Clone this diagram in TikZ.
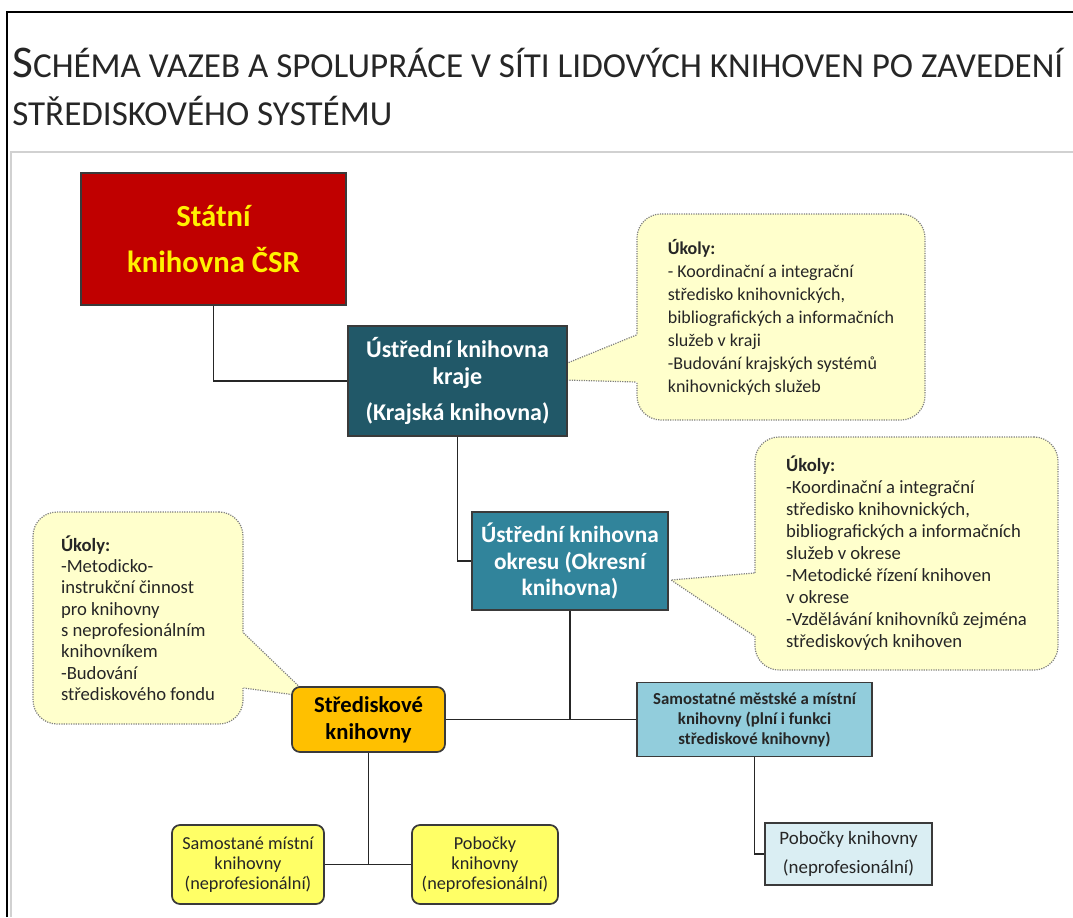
\documentclass[tikz,border=0pt]{standalone}
\usepackage{fontspec}
\setmainfont{Carlito}
\usetikzlibrary{positioning}
\definecolor{statred}{HTML}{C00000}
\definecolor{krajteal}{HTML}{215868}
\definecolor{okresteal}{HTML}{31849B}
\definecolor{stredgold}{HTML}{FFC000}
\definecolor{mistniyel}{HTML}{FFFF66}
\definecolor{samostblue}{HTML}{92CDDC}
\definecolor{pobblue}{HTML}{DAEEF3}
\definecolor{bubble}{HTML}{FFFFCC}
\definecolor{dotgray}{HTML}{7F7F7F}
\definecolor{boxline}{HTML}{3A3A3A}
\definecolor{ink}{HTML}{262626}
\tikzset{
  box/.style={draw=boxline, line width=1.3pt, align=center, inner sep=0pt},
  roundbox/.style={box, rounded corners=6pt},
  ukoly/.style={draw=dotgray, dash pattern=on 0.9pt off 0.9pt, line width=0.9pt,
    fill=bubble, rounded corners=18pt, align=left, inner sep=0pt, text=ink},
  tipfill/.style={fill=bubble},
  tipline/.style={draw=dotgray, dash pattern=on 0.9pt off 0.9pt, line width=0.9pt},
  link/.style={draw=black!85, line width=1pt}
}
\begin{document}
\begin{tikzpicture}[x=0.75pt,y=-0.75pt]
  \useasboundingbox (0,0) rectangle (1073,917);
  %% page frame
  \draw[black, line width=1pt] (7,917) -- (7,12) -- (1073,12);
  \draw[black!18, line width=1.6pt] (11,917) -- (11,152) -- (1073,152);
  %% title
  \node[anchor=base west, inner sep=0pt, text=ink] (title1) at (12,77)
    {\fontsize{34}{34}\selectfont S\fontsize{26.3}{26.3}\selectfont CHÉMA VAZEB A SPOLUPRÁCE V SÍTI LIDOVÝCH KNIHOVEN PO ZAVEDENÍ};
  \node[anchor=base west, inner sep=0pt, text=ink] (title2) at (12,125)
    {\fontsize{26.3}{26.3}\selectfont STŘEDISKOVÉHO SYSTÉMU};

  %% callouts (drawn first, under the boxes)
  \node[ukoly, font=\fontsize{13.5}{17.25}\selectfont, minimum width=216pt, minimum height=154.5pt] (ukolyKraj) at (781,317)
    {\textbf{Úkoly:}\\
     - Koordinační a integrační\\
     středisko knihovnických,\\
     bibliografických a informačních\\
     služeb v kraji\\
     -Budování krajských systémů\\
     knihovnických služeb};
  \node[ukoly, font=\fontsize{14}{16.5}\selectfont, minimum width=227.25pt, minimum height=174.75pt] (ukolyOkres) at (906.5,553.5)
    {\textbf{Úkoly:}\\
     -Koordinační a integrační\\
     středisko knihovnických,\\
     bibliografických a informačních\\
     služeb v okrese\\
     -Metodické řízení knihoven\\
     v okrese\\
     -Vzdělávání knihovníků zejména\\
     střediskových knihoven};
  \node[ukoly, font=\fontsize{14}{16}\selectfont, minimum width=157.5pt, minimum height=159pt] (ukolyStred) at (138,618)
    {\textbf{Úkoly:}\\
     -Metodicko-\\
     instrukční činnost\\
     pro knihovny\\
     s neprofesionálním\\
     knihovníkem\\
     -Budování\\
     střediskového fondu};

  %% callout pointers
  \coordinate (tipKraj) at (528,379);
  \coordinate (tipOkres) at (671,580);
  \coordinate (tipStred) at (310,697);
  \fill[tipfill] (tipKraj) -- (ukolyKraj.west |- 0,335) -- ([xshift=3pt]ukolyKraj.west |- 0,335)
    -- ([xshift=3pt]ukolyKraj.west |- 0,382) -- (ukolyKraj.west |- 0,382) -- cycle;
  \draw[tipline] (ukolyKraj.west |- 0,335) -- (tipKraj) -- (ukolyKraj.west |- 0,382);
  \fill[tipfill] (tipOkres) -- (ukolyOkres.west |- 0,573) -- ([xshift=3pt]ukolyOkres.west |- 0,573)
    -- ([xshift=3pt]ukolyOkres.west |- 0,636) -- (ukolyOkres.west |- 0,636) -- cycle;
  \draw[tipline] (ukolyOkres.west |- 0,573) -- (tipOkres) -- (ukolyOkres.west |- 0,636);
  \fill[tipfill] (tipStred) -- (ukolyStred.east |- 0,633) -- ([xshift=-3pt]ukolyStred.east |- 0,633)
    -- ([xshift=-3pt]ukolyStred.east |- 0,688) -- (ukolyStred.east |- 0,688) -- cycle;
  \draw[tipline] (ukolyStred.east |- 0,633) -- (tipStred) -- (ukolyStred.east |- 0,688);

  %% library boxes
  \node[box, fill=statred, text=yellow, font=\fontsize{23}{35}\selectfont\bfseries,
    minimum width=198.75pt, minimum height=99pt] (statni) at (213.5,239)
    {Státní\\ knihovna ČSR};
  \node[box, fill=krajteal, text=white, font=\fontsize{18}{20}\selectfont\bfseries,
    minimum width=164.25pt, minimum height=82.5pt] (kraj) at (457.5,381)
    {Ústřední knihovna\\ kraje\\[7pt] (Krajská knihovna)};
  \node[box, fill=okresteal, text=white, font=\fontsize{17.5}{20}\selectfont\bfseries,
    minimum width=147pt, minimum height=73.5pt] (okres) at (570,561)
    {Ústřední knihovna\\ okresu (Okresní\\ knihovna)};
  \node[roundbox, fill=stredgold, text=black, font=\fontsize{17}{20}\selectfont\bfseries,
    minimum width=114.75pt, minimum height=48.75pt] (stred) at (368.5,719.5)
    {Střediskové\\ knihovny};
  \node[box, fill=samostblue, text=ink, font=\fontsize{12.6}{15}\selectfont\bfseries,
    minimum width=176.25pt, minimum height=55.5pt] (samost) at (754.5,719.5)
    {Samostatné městské a místní\\ knihovny (plní i funkci\\ střediskové knihovny)};
  \node[roundbox, fill=mistniyel, text=ink, font=\fontsize{13.7}{15}\selectfont,
    minimum width=114pt, minimum height=59.25pt] (mistni) at (248,864.5)
    {Samostané místní\\ knihovny\\ (neprofesionální)};
  \node[roundbox, fill=mistniyel, text=ink, font=\fontsize{13.7}{15}\selectfont,
    minimum width=109.5pt, minimum height=59.25pt] (pobocky) at (485,864.5)
    {Pobočky\\ knihovny\\ (neprofesionální)};
  \node[box, fill=pobblue, text=ink, font=\fontsize{14.2}{16}\selectfont,
    minimum width=125.25pt, minimum height=46.5pt] (pobockyKnih) at (848.5,854)
    {Pobočky knihovny\\[6pt] (neprofesionální)};

  %% connectors
  \draw[link] (statni.south) |- (kraj.west);
  \draw[link] (kraj.south) |- (okres.west);
  \draw[link] (stred.east) -- (samost.west);
  \draw[link] (okres.south) -- (okres.south |- stred.east);
  \draw[link] (mistni.east) -- (pobocky.west);
  \draw[link] (stred.south) -- (stred.south |- mistni.east);
  \draw[link] (samost.south) |- (pobockyKnih.west);
\end{tikzpicture}
\end{document}
